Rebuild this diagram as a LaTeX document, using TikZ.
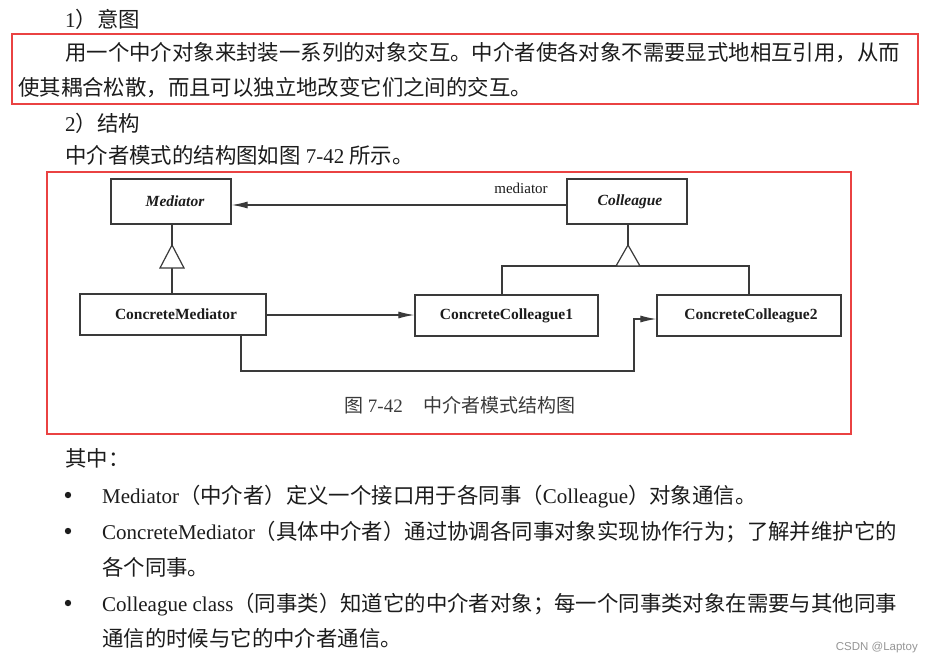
\documentclass[tikz,border=0pt]{standalone}
\usepackage{fontspec}
\setmainfont{Liberation Serif}
\newfontfamily\cjk{Noto Sans CJK SC}
\newfontfamily\wmfont{Liberation Sans}
\usetikzlibrary{arrows.meta}
\definecolor{redbox}{RGB}{234,66,66}
\definecolor{ink}{RGB}{28,28,28}
\definecolor{umlline}{RGB}{58,58,58}
\definecolor{wmgray}{RGB}{150,150,150}
\newcommand{\zhs}{\cjk\fontsize{21.4}{21.4}\selectfont}
\newcommand{\zhcap}{\cjk\fontsize{19}{19}\selectfont}
\tikzset{
  body/.style={anchor=base west, inner sep=0pt, text=ink, font=\fontsize{21}{21}\selectfont},
  cls/.style={draw=umlline, line width=1.3pt, inner sep=0pt, text=ink, font=\fontsize{15.5}{15.5}\selectfont\bfseries},
  ln/.style={draw=umlline, line width=1.2pt},
  arr/.style={draw=umlline, line width=1.2pt, -{Latex[length=16pt,width=7pt]}},
  gen/.style={draw=umlline, line width=1.2pt, fill=white, line join=miter},
  frame/.style={draw=redbox, line width=2pt},
}
\begin{document}
\begin{tikzpicture}[x=1pt,y=-1pt]
\useasboundingbox (0,0) rectangle (928,662);
\fill[white] (0,0) rectangle (928,662);

% ---- top text ----
\node[body] (h1) at (65,27) {1{\zhs ）意图}};
\draw[frame] (12,34) rectangle (918,104);
\node[body] (intro1) at (65,60) {\zhs 用一个中介对象来封装一系列的对象交互。中介者使各对象不需要显式地相互引用，从而};
\node[body] (intro2) at (18,95) {\zhs 使其耦合松散，而且可以独立地改变它们之间的交互。};
\node[body] (h2) at (65,131) {2{\zhs ）结构}};
\node[body] (ref) at (65,163) {{\zhs 中介者模式的结构图如图} 7-42 {\zhs 所示。}};

% ---- diagram frame ----
\draw[frame] (47,172) rectangle (851,434);

% ---- classes ----
\node[cls, minimum width=120pt, minimum height=45pt] (med) at (171,201.5) {\itshape\hspace{8pt}Mediator};
\node[cls, minimum width=120pt, minimum height=45pt] (col) at (627,201.5) {\itshape\hspace{6pt}Colleague};
\node[cls, minimum width=186pt, minimum height=41pt] (cm) at (173,314.5) {\hspace{6pt}ConcreteMediator};
\node[cls, minimum width=183pt, minimum height=41pt] (cc1) at (506.5,315.5) {ConcreteColleague1};
\node[cls, minimum width=184pt, minimum height=41pt] (cc2) at (749,315.5) {\hspace{4pt}ConcreteColleague2};

% ---- association Colleague -> Mediator ----
\draw[arr] ([yshift=-3.5pt]col.west) -- ([yshift=-3.5pt]med.east);
\node[anchor=base, inner sep=0pt, text=ink, font=\fontsize{15}{15}\selectfont] (lbl) at (521,193) {mediator};

% ---- generalization Mediator <- ConcreteMediator ----
\coordinate (g1a) at (172,245);
\coordinate (g1l) at (160,268);
\coordinate (g1r) at (184,268);
\coordinate (g1b) at (172,268);
\draw[ln] (med.south -| g1a) -- (g1a);
\draw[ln] (g1b) -- (cm.north -| g1b);
\draw[gen] (g1a) -- (g1l) -- (g1r) -- cycle;

% ---- generalization Colleague <- ConcreteColleagues ----
\coordinate (g2a) at (628,245);
\coordinate (g2l) at (616,266);
\coordinate (g2r) at (640,266);
\coordinate (j1) at (502,266);
\coordinate (j2) at (749,266);
\draw[ln] (col.south -| g2a) -- (g2a);
\draw[ln] (cc1.north -| j1) -- (j1) -- (j2) -- (cc2.north -| j2);
\draw[gen] (g2a) -- (g2l) -- (g2r) -- cycle;

% ---- ConcreteMediator -> colleagues ----
\draw[arr] ([yshift=-0.5pt]cm.east) -- ([yshift=-0.5pt]cm.east -| cc1.west);
\coordinate (p1) at (241,371);
\coordinate (p2) at (634,371);
\coordinate (p3) at (634,319);
\draw[arr] (cm.south -| p1) -- (p1) -- (p2) -- (p3) -- (p3 -| cc2.west);

% ---- caption ----
\node[anchor=base west, inner sep=0pt, text=umlline, font=\fontsize{19}{19}\selectfont] (cap) at (344,412) {{\zhcap 图} 7-42\hspace{21pt}{\zhcap 中介者模式结构图}};

% ---- bottom text ----
\node[body] (qz) at (65,466) {\zhs 其中：};
\fill[ink] (68,495) circle (3.2pt);
\node[body] (b1) at (102,503) {Mediator{\zhs（中介者）定义一个接口用于各同事（}Colleague{\zhs）对象通信。}};
\fill[ink] (68,531) circle (3.2pt);
\node[body] (b2) at (102,539) {ConcreteMediator{\zhs（具体中介者）通过协调各同事对象实现协作行为；了解并维护它的}};
\node[body] (b2b) at (102,575) {\zhs 各个同事。};
\fill[ink] (68,603) circle (3.2pt);
\node[body] (b3) at (102,611) {Colleague class{\zhs（同事类）知道它的中介者对象；每一个同事类对象在需要与其他同事}};
\node[body] (b3b) at (102,646) {\zhs 通信的时候与它的中介者通信。};

% ---- watermark ----
\node[anchor=base east, inner sep=0pt, text=wmgray, font=\wmfont\fontsize{11.5}{11.5}\selectfont] (wm) at (918,650) {CSDN @Laptoy};
\end{tikzpicture}
\end{document}
